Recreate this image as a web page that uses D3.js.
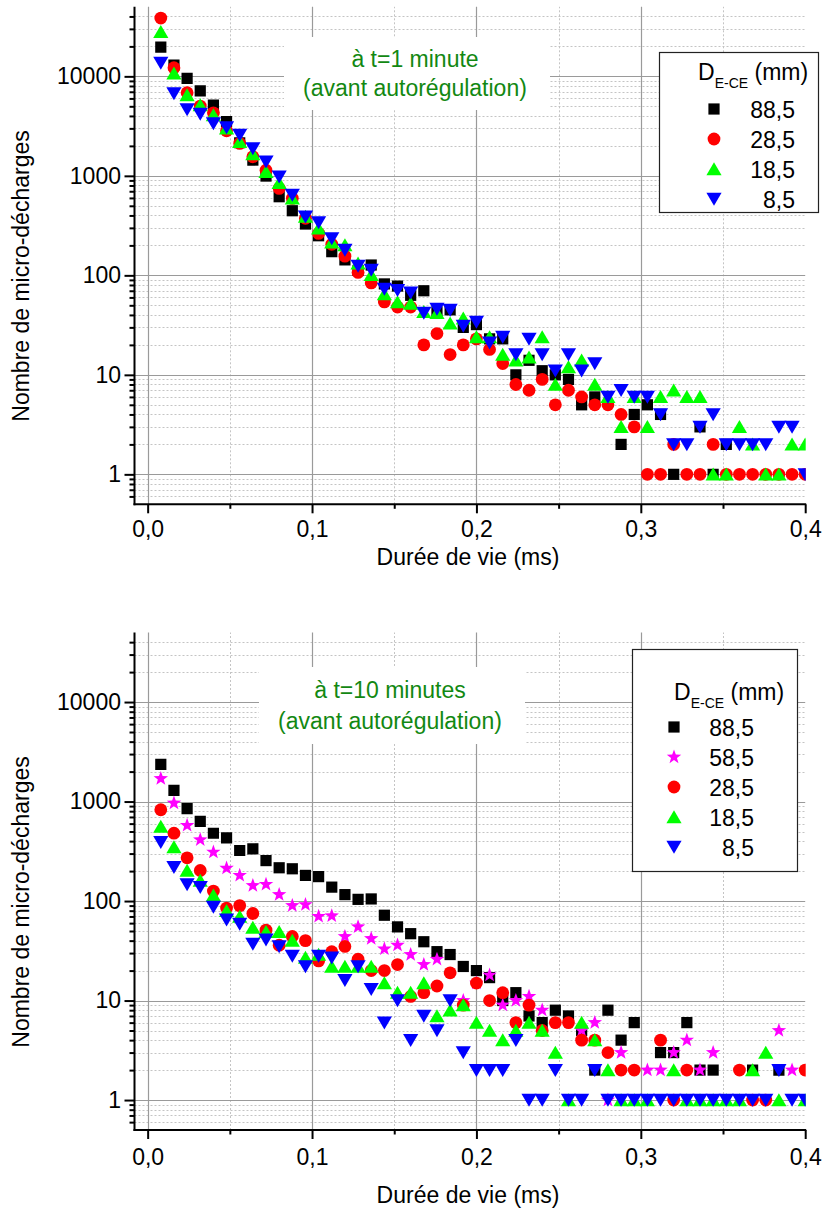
<!DOCTYPE html>
<html><head><meta charset="utf-8">
<script src="https://cdn.jsdelivr.net/npm/d3@7/dist/d3.min.js"></script>
<style>
body{margin:0;background:#fff}
svg{display:block}
text{font-family:"Liberation Sans",Arial,Helvetica,sans-serif}
</style>
</head><body>
<svg id="c" width="822" height="1209"></svg>
<script>
// ---------- DATA ----------
const xVals = [0.008,0.016,0.024,0.032,0.04,0.048,0.056,0.064,0.072,0.08,
  0.088,0.096,0.104,0.112,0.12,0.128,0.136,0.144,0.152,0.16,
  0.168,0.176,0.184,0.192,0.2,0.208,0.216,0.224,0.232,0.24,
  0.248,0.256,0.264,0.272,0.28,0.288,0.296,0.304,0.312,0.32,
  0.328,0.336,0.344,0.352,0.36,0.368,0.376,0.384,0.392,0.4];

// Panel 1 : t = 1 minute
const top885 = [19700,13000,9550,7160,5150,3500,2150,1440,995,617,446,328,250,173,143,112,127,82,78,63,70,43,45,30,32,23,23,10,14,11,10,9,5,6,null,2,4,5,4,1,null,3,1,2,null,null,null,null,null,null];
const top285 = [38500,12200,6840,5030,4300,2840,2120,1555,1140,748,594,374,264,205,156,107,84,54,48,48,20,26,16,20,23,18,13,8,7,9,5,7,6,5,5,4,3,1,1,2,1,1,2,1,1,1,1,1,1,1];
const top185 = [28000,10700,6490,5150,4080,3000,2200,1660,1100,853,594,390,297,215,202,132,101,65,54,52,43,42,33,37,24,24,16,14,15,24,8,12,14,8,6,3,6,3,6,7,6,6,1,1,3,2,1,1,2,2];
const top85  = [13600,6750,4660,4180,3370,3070,2570,1890,1390,979,641,388,340,235,180,124,113,73,71,67,42,46,45,31,34,21,24,16,23,16,11,16,11,13,6,7,6,6,4,2,2,3,4,2,2,2,2,3,3,1];

// Panel 2 : t = 10 minutes
const bot885 = [2360,1295,847,631,480,432,322,335,255,216,211,181,176,138,116,104,105,72,55,47,39,31,29,22,20,17,10,12,7,6,8,7,5,2,8,4,6,null,3,3,6,2,2,null,null,2,null,2,null,null];
const bot585 = [1700,964,575,413,310,214,181,143,147,116,90,92,70,71,44,55,42,33,36,29,23,26,null,10,15,18,9,10,11,8,null,null,5,6,1,3,null,2,2,3,4,2,3,null,null,null,null,5,2,null];
const bot285 = [827,481,272,203,126,85,90,75,51,36,44,40,25,31,35,26,20,20,23,11,12,14,19,9,15,10,12,6,9,5,6,6,4,4,3,2,2,null,4,1,2,null,null,null,2,1,1,null,null,2];
const bot185 = [561,348,203,161,114,80,70,54,49,49,40,27,29,22,22,22,22,15,12,12,15,7,8,9,6,5,4,5,6,5,3,1,6,4,2,1,1,1,null,2,1,1,1,1,1,2,3,1,null,1];
const bot85  = [391,219,147,138,87,65,59,37,41,35,28,22,28,27,16,22,13,6,10,4,7,5,10,3,2,2,2,4,1,1,2,1,1,2,1,1,1,1,1,1,1,1,1,1,1,1,1,2,1,1];

const xTicks = [0, 0.1, 0.2, 0.3, 0.4];
const xMinorTicks = [0.05, 0.15, 0.25, 0.35];
const yTicks = [1, 10, 100, 1000, 10000];
const yMinorTicks = [0.6,0.7,0.8,0.9,2,3,4,5,6,7,8,9,20,30,40,50,60,70,80,90,
  200,300,400,500,600,700,800,900,2000,3000,4000,5000,6000,7000,8000,9000,20000,30000,40000];

const xTitle = "Durée de vie (ms)";
const yTitle = "Nombre de micro-décharges";
const legendLabels1 = ["88,5","28,5","18,5","8,5"];
const legendLabels2 = ["88,5","58,5","28,5","18,5","8,5"];

// ---------- STYLE ----------
const FONT = 23;
const GREEN_TXT = "#128812";

function starPath(R, r) {
  let p = "";
  for (let i = 0; i < 10; i++) {
    const a = -Math.PI/2 + i*Math.PI/5;
    const rr = i % 2 === 0 ? R : r;
    p += (i ? "L" : "M") + (rr*Math.cos(a)).toFixed(2) + "," + (rr*Math.sin(a)).toFixed(2);
  }
  return p + "Z";
}
const shapes = {
  square: "M-5.6,-5.6h11.2v11.2h-11.2Z",
  circle: "",
  up: "M0,-6.8L7.6,6.2L-7.6,6.2Z",
  down: "M0,6.8L7.6,-6.2L-7.6,-6.2Z",
  star: starPath(7.6, 3.1)
};
{ const c = d3.path(); c.arc(0,0,6.4,0,2*Math.PI); shapes.circle = c.toString(); }

const svg = d3.select("#c");

function drawPanel(cfg) {
  const g = svg.append("g");
  const x = d3.scaleLinear().domain([-0.008, 0.4]).range([134.5, 805.2]);
  const y = d3.scaleLog().domain([0.5, 50000]).range([cfg.bottom, cfg.bottom - 497.5]);
  const [y0, y1] = y.range();
  const xL = x.range()[0], xR = x.range()[1];

  // minor grid
  g.append("g").selectAll("line").data(yMinorTicks).join("line")
    .attr("x1", xL).attr("x2", xR)
    .attr("y1", d => Math.round(y(d)) + 0.5).attr("y2", d => Math.round(y(d)) + 0.5)
    .attr("stroke", "#c4c4c4").attr("stroke-width", 1).attr("stroke-dasharray", "2,2");
  g.append("g").selectAll("line").data(xMinorTicks).join("line")
    .attr("y1", y0).attr("y2", y1)
    .attr("x1", d => Math.round(x(d)) + 0.5).attr("x2", d => Math.round(x(d)) + 0.5)
    .attr("stroke", "#c4c4c4").attr("stroke-width", 1).attr("stroke-dasharray", "2,2");
  // major grid
  g.append("g").selectAll("line").data(yTicks).join("line")
    .attr("x1", xL).attr("x2", xR)
    .attr("y1", d => Math.round(y(d)) + 0.5).attr("y2", d => Math.round(y(d)) + 0.5)
    .attr("stroke", "#9a9a9a").attr("stroke-width", 1.2);
  g.append("g").selectAll("line").data(xTicks.slice(0, 4)).join("line")
    .attr("y1", y0).attr("y2", y1)
    .attr("x1", d => Math.round(x(d)) + 0.5).attr("x2", d => Math.round(x(d)) + 0.5)
    .attr("stroke", "#9a9a9a").attr("stroke-width", 1.2);

  // annotation box
  g.append("rect").attr("x", cfg.note.x0).attr("y", cfg.note.y0)
    .attr("width", cfg.note.x1 - cfg.note.x0).attr("height", cfg.note.y1 - cfg.note.y0)
    .attr("fill", "#fff");
  cfg.note.lines.forEach((t, i) => {
    g.append("text").attr("x", cfg.note.cx).attr("y", cfg.note.base[i])
      .attr("text-anchor", "middle").attr("font-size", FONT).attr("fill", GREEN_TXT).text(t);
  });

  // data
  const clipId = "clip" + cfg.id;
  svg.append("clipPath").attr("id", clipId).append("rect")
    .attr("x", xL - 20).attr("y", y1 - 20).attr("width", xR - xL + 20.5).attr("height", y0 - y1 + 40);
  const dg = g.append("g").attr("clip-path", `url(#${clipId})`);
  cfg.series.forEach(s => {
    const pts = xVals.map((xv, i) => [xv, s.values[i]]).filter(p => p[1] != null);
    dg.append("g").selectAll("path").data(pts).join("path")
      .attr("d", shapes[s.shape])
      .attr("transform", p => `translate(${x(p[0])},${y(p[1])})`)
      .attr("fill", s.color);
  });

  // axes
  const fmtX = d => d3.format(".1f")(d).replace(".", ",");
  const ax = g.append("g").attr("transform", `translate(0,${y0})`)
    .call(d3.axisBottom(x).tickValues(xTicks).tickSize(9).tickSizeOuter(0).tickPadding(cfg.xPad).tickFormat(fmtX));
  const axm = g.append("g").attr("transform", `translate(0,${y0})`)
    .call(d3.axisBottom(x).tickValues(xMinorTicks).tickSize(4.5).tickSizeOuter(0).tickFormat(""));
  const ay = g.append("g").attr("transform", `translate(${xL},0)`)
    .call(d3.axisLeft(y).tickValues(yTicks).tickSize(10).tickSizeOuter(0).tickPadding(3.5).tickFormat(d3.format("d")));
  const aym = g.append("g").attr("transform", `translate(${xL},0)`)
    .call(d3.axisLeft(y).tickValues(yMinorTicks).tickSize(5).tickSizeOuter(0).tickFormat(""));
  [ax, axm, ay, aym].forEach(a => {
    a.select(".domain").remove();
    a.selectAll("line").attr("stroke", "#000").attr("stroke-width", 2);
    a.selectAll("text").attr("font-size", FONT).attr("font-family", null).attr("fill", "#000");
  });
  g.append("line").attr("x1", xL - 1).attr("x2", xR + 1).attr("y1", y0).attr("y2", y0)
    .attr("stroke", "#000").attr("stroke-width", 2);
  g.append("line").attr("x1", xL).attr("x2", xL).attr("y1", y0 + 1).attr("y2", y1)
    .attr("stroke", "#000").attr("stroke-width", 2);

  // titles
  g.append("text").attr("x", 468).attr("y", cfg.xTitleY).attr("text-anchor", "middle")
    .attr("font-size", FONT).text(xTitle);
  g.append("text").attr("transform", `translate(29,${cfg.yTitleC}) rotate(-90)`)
    .attr("text-anchor", "middle").attr("font-size", FONT).text(yTitle);

  // legend
  const L = cfg.legend;
  g.append("rect").attr("x", L.x0 + 0.5).attr("y", L.y0 + 0.5)
    .attr("width", L.x1 - L.x0).attr("height", L.y1 - L.y0)
    .attr("fill", "#fff").attr("stroke", "#222").attr("stroke-width", 1.2);
  const tt = g.append("text").attr("x", L.titleX).attr("y", L.titleY).attr("font-size", FONT);
  tt.append("tspan").text("D");
  tt.append("tspan").attr("font-size", 14).attr("dy", 8).text("E-CE");
  tt.append("tspan").attr("dy", -8).text(" (mm)");
  cfg.series.forEach((s, i) => {
    const cy = L.row0 + i * 30;
    g.append("path").attr("d", shapes[s.shape]).attr("fill", s.color)
      .attr("transform", `translate(${L.symX},${cy})`);
    g.append("text").attr("x", L.labX).attr("y", cy + 8.5).attr("text-anchor", "end")
      .attr("font-size", FONT).text(L.labels[i]);
  });
}

drawPanel({
  id: 1, bottom: 504.3, xTitleY: 565, yTitleC: 276, xPad: 7.5,
  note: {x0: 284, x1: 550, y0: 37, y1: 110, cx: 415, base: [67, 96],
    lines: ["à t=1 minute", "(avant autorégulation)"]},
  series: [
    {values: top885, shape: "square", color: "#000000"},
    {values: top285, shape: "circle", color: "#ff0000"},
    {values: top185, shape: "up", color: "#00ff00"},
    {values: top85, shape: "down", color: "#0000ff"}
  ],
  legend: {x0: 659, x1: 818, y0: 52, y1: 212, titleX: 698, titleY: 80,
    symX: 714, labX: 795, row0: 109, labels: legendLabels1}
});

drawPanel({
  id: 2, bottom: 1130, xTitleY: 1203, yTitleC: 902, xPad: 9.5,
  note: {x0: 259, x1: 525, y0: 667, y1: 744, cx: 390, base: [698, 729],
    lines: ["à t=10 minutes", "(avant autorégulation)"]},
  series: [
    {values: bot885, shape: "square", color: "#000000"},
    {values: bot585, shape: "star", color: "#ff00ff"},
    {values: bot285, shape: "circle", color: "#ff0000"},
    {values: bot185, shape: "up", color: "#00ff00"},
    {values: bot85, shape: "down", color: "#0000ff"}
  ],
  legend: {x0: 632, x1: 797, y0: 649, y1: 871, titleX: 674, titleY: 700,
    symX: 674, labX: 754, row0: 727, labels: legendLabels2}
});
</script>
</body></html>
